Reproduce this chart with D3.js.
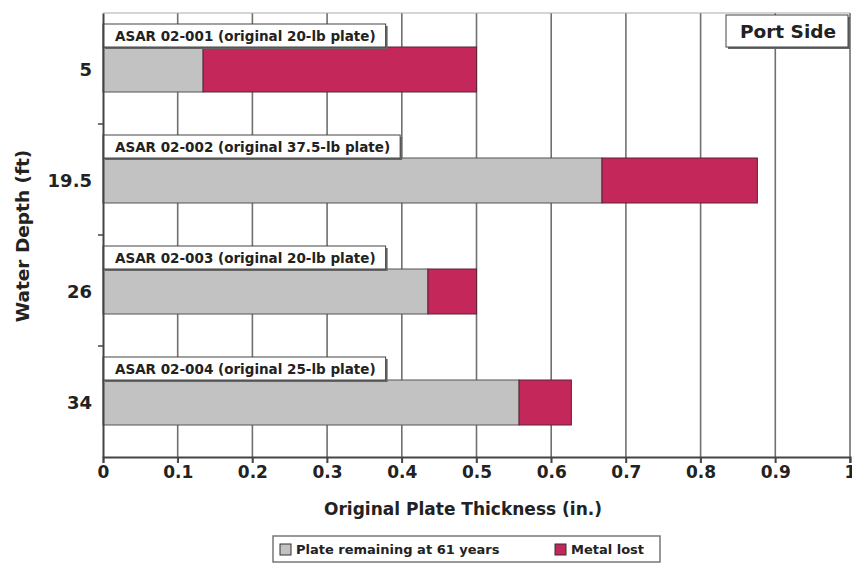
<!DOCTYPE html>
<html>
<head>
<meta charset="utf-8">
<script src="https://cdn.jsdelivr.net/npm/d3@7"></script>
<style>
  body { margin: 0; background: #fff; }
  svg { font-family: "DejaVu Sans", "Liberation Sans", Arial, sans-serif; font-weight: bold; }
</style>
</head>
<body>
<div id="chart"></div>
<script>
// data
const depths = ["5", "19.5", "26", "34"];
const sampleLabels = [
    "ASAR 02-001 (original 20-lb plate)",
    "ASAR 02-002 (original 37.5-lb plate)",
    "ASAR 02-003 (original 20-lb plate)",
    "ASAR 02-004 (original 25-lb plate)"
];
const remaining = [0.134, 0.668, 0.435, 0.557];
const original = [0.5, 0.876, 0.5, 0.627];
const xTicks = [0, 0.1, 0.2, 0.3, 0.4, 0.5, 0.6, 0.7, 0.8, 0.9, 1];
const legendLabels = ["Plate remaining at 61 years", "Metal lost"];

const COLORS = { remain: "#c2c2c2", lost: "#c42759", grid: "#707070" };
const FONT = "DejaVu Sans, Liberation Sans, Arial, sans-serif";

const width = 852, height = 565;
const svg = d3.select("#chart").append("svg")
    .attr("width", width)
    .attr("height", height);

const x = d3.scaleLinear().domain([0, 1]).range([103, 850]);
const y = d3.scaleBand().domain(depths).range([13, 457]).paddingInner(0).paddingOuter(0);

// vertical gridlines
svg.append("g")
    .selectAll("line")
    .data(xTicks.slice(1))
    .join("line")
    .attr("x1", d => x(d)).attr("x2", d => x(d))
    .attr("y1", 13).attr("y2", 463)
    .attr("stroke", COLORS.grid)
    .attr("stroke-width", 1.6);

// top frame line
svg.append("line")
    .attr("x1", x(0)).attr("x2", x(1))
    .attr("y1", 13).attr("y2", 13)
    .attr("stroke", "#aaa").attr("stroke-width", 1);

const rows = depths.map((d, i) => ({ depth: d, label: sampleLabels[i], rem: remaining[i], orig: original[i] }));

const barTop = 34, barH = 45, labTop = 11, labH = 23;

const g = svg.append("g");

// remaining plate
g.selectAll("rect.rem")
    .data(rows)
    .join("rect")
    .attr("class", "rem")
    .attr("x", x(0))
    .attr("y", d => y(d.depth) + barTop)
    .attr("width", d => x(d.rem) - x(0))
    .attr("height", barH)
    .attr("fill", COLORS.remain)
    .attr("stroke", "#555")
    .attr("stroke-width", 1);

// metal lost
g.selectAll("rect.lost")
    .data(rows)
    .join("rect")
    .attr("class", "lost")
    .attr("x", d => x(d.rem))
    .attr("y", d => y(d.depth) + barTop)
    .attr("width", d => x(d.orig) - x(d.rem))
    .attr("height", barH)
    .attr("fill", COLORS.lost)
    .attr("stroke", "#5a2236")
    .attr("stroke-width", 1);

// sample label boxes
const lab = g.selectAll("g.lab")
    .data(rows)
    .join("g")
    .attr("class", "lab")
    .attr("transform", d => `translate(${x(0)},${y(d.depth) + labTop})`);

lab.append("text")
    .attr("x", 12)
    .attr("y", 16.5)
    .attr("font-size", 13.5)
    .attr("fill", "#222")
    .text(d => d.label)
    .each(function() {
        const w = this.getComputedTextLength() + 22;
        const p = d3.select(this.parentNode);
        p.insert("rect", "text")
            .attr("x", 2).attr("y", 2)
            .attr("width", w).attr("height", labH)
            .attr("fill", "#666");
        p.insert("rect", "text")
            .attr("x", 0).attr("y", 0)
            .attr("width", w).attr("height", labH)
            .attr("fill", "#fff")
            .attr("stroke", "#444")
            .attr("stroke-width", 1);
    });

// x axis
const xAxis = svg.append("g")
    .attr("transform", `translate(0,457)`)
    .call(d3.axisBottom(x).tickValues(xTicks).tickSize(6).tickFormat(d3.format("")));
xAxis.select(".domain").attr("stroke", "#444").attr("stroke-width", 2);
xAxis.selectAll(".tick line").attr("stroke", "#444").attr("stroke-width", 1.6);
xAxis.selectAll(".tick text")
    .attr("font-size", 17)
    .attr("font-family", FONT)
    .attr("font-weight", "bold")
    .attr("fill", "#222");

// y axis
const yAxis = svg.append("g")
    .attr("transform", `translate(${x(0)},0)`)
    .call(d3.axisLeft(y).tickSize(0).tickPadding(11));
yAxis.select(".domain").attr("stroke", "#444").attr("stroke-width", 2);
yAxis.selectAll(".tick text")
    .attr("font-size", 18)
    .attr("font-family", FONT)
    .attr("font-weight", "bold")
    .attr("fill", "#222")
    .attr("dy", "0.36em")
    .attr("y", d => barTop + barH / 2 - y.bandwidth() / 2);

// band separator ticks on left
svg.append("g")
    .selectAll("line")
    .data(depths.slice(1))
    .join("line")
    .attr("x1", x(0) - 5).attr("x2", x(0))
    .attr("y1", d => y(d)).attr("y2", d => y(d))
    .attr("stroke", "#444").attr("stroke-width", 1.5);

// axis titles
svg.append("text")
    .attr("x", 463)
    .attr("y", 515)
    .attr("text-anchor", "middle")
    .attr("font-size", 17)
    .attr("fill", "#222")
    .text("Original Plate Thickness (in.)");

svg.append("text")
    .attr("transform", "translate(29,236) rotate(-90)")
    .attr("text-anchor", "middle")
    .attr("font-size", 18.5)
    .attr("fill", "#222")
    .text("Water Depth (ft)");

// Port Side box
const ps = svg.append("g").attr("transform", "translate(726,15)");
ps.append("rect").attr("x", 2).attr("y", 2).attr("width", 122).attr("height", 32).attr("fill", "#666");
ps.append("rect").attr("width", 122).attr("height", 32).attr("fill", "#fff").attr("stroke", "#444");
ps.append("text")
    .attr("x", 62).attr("y", 23)
    .attr("text-anchor", "middle")
    .attr("font-size", 18.5)
    .attr("fill", "#222")
    .text("Port Side");

// legend
const lg = svg.append("g").attr("transform", "translate(273,536)");
lg.append("rect").attr("width", 387).attr("height", 26)
    .attr("fill", "#fff").attr("stroke", "#777").attr("stroke-width", 1.5);
const legendX = [7, 282];
const legendFill = [COLORS.remain, COLORS.lost];
lg.selectAll("rect.sw")
    .data(legendLabels)
    .join("rect")
    .attr("class", "sw")
    .attr("x", (d, i) => legendX[i])
    .attr("y", 8)
    .attr("width", 11).attr("height", 11)
    .attr("fill", (d, i) => legendFill[i])
    .attr("stroke", "#333");
lg.selectAll("text")
    .data(legendLabels)
    .join("text")
    .attr("x", (d, i) => legendX[i] + 16)
    .attr("y", 18)
    .attr("font-size", 13)
    .attr("fill", "#222")
    .text(d => d);
</script>
</body>
</html>
